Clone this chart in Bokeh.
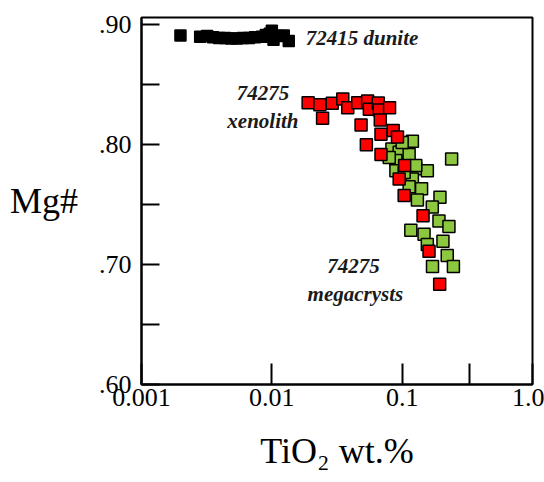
from bokeh.plotting import figure
from bokeh.models import Range1d, FixedTicker, Label, ColumnDataSource
from bokeh.embed import file_html
from bokeh.resources import INLINE

# ---- data ----
dunite_ti = [0.00199, 0.00282, 0.00319, 0.00354, 0.00394, 0.00438, 0.00486, 0.00541,
             0.00601, 0.00667, 0.00742, 0.00839, 0.00900, 0.00965, 0.0100, 0.0103,
             0.01111, 0.01235, 0.01349]
dunite_mg = [0.891, 0.890, 0.8905, 0.8895, 0.889, 0.889, 0.8885, 0.8885,
             0.889, 0.889, 0.8895, 0.890, 0.8915, 0.8925, 0.895, 0.8875,
             0.8905, 0.891, 0.8865]

xeno_ti = [0.01899, 0.02337, 0.02907, 0.03503, 0.03823, 0.04559, 0.05435, 0.05600,
           0.06559, 0.06675, 0.08003, 0.02451, 0.04838, 0.06795, 0.06878, 0.08536,
           0.09207, 0.05312, 0.06878, 0.1045, 0.09487, 0.1036, 0.1446, 0.1607, 0.1940]
xeno_mg = [0.835, 0.8333, 0.8346, 0.8381, 0.8308, 0.835, 0.8364, 0.8294,
           0.8348, 0.8289, 0.8308, 0.8221, 0.8163, 0.8206, 0.8086, 0.8117,
           0.8064, 0.800, 0.7917, 0.7825, 0.7714, 0.7575, 0.7408, 0.7111, 0.6836]

mega_ti = [0.1198, 0.08343, 0.09487, 0.1131, 0.2396, 0.08950, 0.08950, 0.1272,
           0.1560, 0.1198, 0.1409, 0.1131, 0.1309, 0.1950, 0.1703, 0.1916,
           0.2285, 0.1165, 0.1472, 0.2056, 0.1560, 0.2217, 0.1709, 0.2473,
           0.1000, 0.07958, 0.1272, 0.1036]
mega_mg = [0.8028, 0.7964, 0.7936, 0.7917, 0.7881, 0.7867, 0.7783, 0.7798,
           0.7783, 0.7714, 0.7633, 0.7648, 0.7539, 0.7561, 0.7479, 0.7364,
           0.7317, 0.7286, 0.7253, 0.7194, 0.7167, 0.7075, 0.6983, 0.6983,
           0.8017, 0.7892, 0.7825, 0.7767]

x_ticks = [0.001, 0.01, 0.1, 0.33, 1.0]
x_tick_labels = ["0.001", "0.01", "0.1", "", "1.0"]
y_ticks = [0.60, 0.65, 0.70, 0.75, 0.80, 0.85, 0.90]
y_tick_labels = [".60", "", ".70", "", ".80", "", ".90"]

group_labels = ["72415 dunite", "74275", "xenolith", "74275", "megacrysts"]
x_title = "TiO\u2082 wt.%"
y_title = "Mg#"

SERIF = "Liberation Serif"

p = figure(width=544, height=482, x_axis_type="log",
           x_range=Range1d(0.001, 1.0), y_range=Range1d(0.60, 0.906),
           output_backend="svg", toolbar_location=None,
           min_border_left=141, min_border_right=12, min_border_top=17, min_border_bottom=98)
p.background_fill_color = "white"
p.border_fill_color = "white"
p.outline_line_color = "black"
p.outline_line_width = 2
p.xgrid.visible = False
p.ygrid.visible = False

for ax, ticks, labels, tick_len in ((p.xaxis[0], x_ticks, x_tick_labels, 21),
                                    (p.yaxis[0], y_ticks, y_tick_labels, 18)):
    ax.ticker = FixedTicker(ticks=ticks, minor_ticks=[])
    ax.major_label_overrides = {t: l for t, l in zip(ticks, labels)}
    ax.axis_line_color = "black"
    ax.axis_line_width = 2
    ax.major_tick_line_color = "black"
    ax.major_tick_line_width = 2
    ax.major_tick_in = tick_len
    ax.major_tick_out = 0
    ax.minor_tick_line_color = None
    ax.major_label_text_font = SERIF
    ax.major_label_text_font_size = "26px"
    ax.major_label_text_color = "black"
    ax.axis_label_text_font = SERIF
    ax.axis_label_text_font_size = "36px"
    ax.axis_label_text_font_style = "normal"
    ax.axis_label_text_color = "black"
p.xaxis[0].major_label_standoff = 4
p.yaxis[0].major_label_standoff = 10

p.xaxis[0].axis_label = x_title
p.xaxis[0].axis_label_standoff = 22
p.yaxis[0].axis_label = y_title
p.yaxis[0].axis_label_orientation = "horizontal"
p.yaxis[0].axis_label_standoff = 18

src_m = ColumnDataSource(dict(x=mega_ti, y=mega_mg))
src_x = ColumnDataSource(dict(x=xeno_ti, y=xeno_mg))
src_d = ColumnDataSource(dict(x=dunite_ti, y=dunite_mg))
p.scatter("x", "y", source=src_d, marker="square", size=11, fill_color="black",
          line_color="black", line_width=1.5)
p.scatter("x", "y", source=src_m, marker="square", size=12, fill_color="#8DC63F",
          line_color="black", line_width=1.5)
p.scatter("x", "y", source=src_x, marker="square", size=12, fill_color="#FF0000",
          line_color="black", line_width=1.5)

ann = [
    (0.0182, 0.889, group_labels[0], "left"),
    (0.00854, 0.8433, group_labels[1], "center"),
    (0.00854, 0.8200, group_labels[2], "center"),
    (0.0423, 0.6992, group_labels[3], "center"),
    (0.0438, 0.6758, group_labels[4], "center"),
]
for x, y, t, al in ann:
    p.add_layout(Label(x=x, y=y, text=t, text_font=SERIF, text_font_size="21px",
                       text_font_style="bold italic", text_align=al,
                       text_baseline="middle", text_color="#1a1a1a"))

open("out.html", "w").write(file_html(p, INLINE))
